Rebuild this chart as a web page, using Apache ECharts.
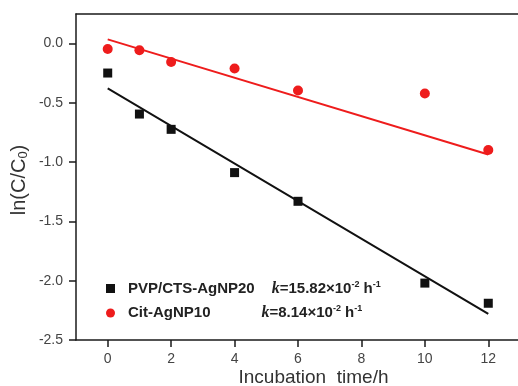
<!DOCTYPE html>
<html><head><meta charset="utf-8">
<script src="https://cdn.jsdelivr.net/npm/echarts@6/dist/echarts.min.js"></script>
<style>html,body{margin:0;padding:0;background:#fff}#c{width:518px;height:386px}</style>
</head><body><div id="c"></div>
<script>
const times = [0, 1, 2, 4, 6, 10, 12];
const pvpValues = [-0.248, -0.594, -0.723, -1.088, -1.33, -2.02, -2.19];
const citValues = [-0.045, -0.056, -0.155, -0.21, -0.396, -0.42, -0.897];
const fitX = [0, 12];
const pvpFit = [-0.377, -2.28];
const citFit = [0.036, -0.935];
const xTicks = [0, 2, 4, 6, 8, 10, 12];
const yTicks = [0.0, -0.5, -1.0, -1.5, -2.0, -2.5];
const seriesNames = ['PVP/CTS-AgNP20', 'Cit-AgNP10'];
const kLabels = {'PVP/CTS-AgNP20': '{i1|k}{b|=15.82×10}{s|-2}{b| h}{s|-1}', 'Cit-AgNP10': '{i2|k}{b|=8.14×10}{s|-2}{b| h}{s|-1}'};

const chart = echarts.init(document.getElementById('c'), null, {renderer: 'canvas'});
const pair = (xs, ys) => xs.map((x, i) => [x, ys[i]]);
const axisCol = '#1a1a1a';
const TICK = 7;
const kStyle = (pad) => ({fontFamily: 'Liberation Serif', fontStyle: 'italic', fontWeight: 'bold', fontSize: 16, color: '#222', padding: [0, 0, 0, pad]});
chart.setOption({
  animation: false,
  grid: {left: 76, right: -2, top: 14, bottom: 46, outerBoundsMode: 'none', containLabel: false},
  xAxis: [{
    type: 'value', min: -1, max: 13, interval: 1, position: 'bottom',
    name: 'Incubation  time/h', nameLocation: 'middle', nameGap: 28, nameMoveOverlap: false,
    nameTextStyle: {fontFamily: 'Liberation Sans', fontSize: 19, color: '#333', padding: [0, 0, 0, 31]},
    axisLine: {show: true, onZero: false, lineStyle: {color: axisCol, width: 1.5}},
    axisTick: {show: true, inside: false, length: TICK, customValues: xTicks, lineStyle: {color: axisCol, width: 1.5}},
    axisLabel: {fontFamily: 'Liberation Sans', fontSize: 14, color: '#444', margin: 12, customValues: xTicks},
    splitLine: {show: false}
  }, {
    type: 'value', min: -1, max: 13, position: 'top',
    axisLine: {show: true, onZero: false, lineStyle: {color: axisCol, width: 1.5}},
    axisTick: {show: false}, axisLabel: {show: false}, splitLine: {show: false}
  }],
  yAxis: {
    type: 'value', min: -2.5, max: 0.25, interval: 0.5,
    name: 'ln(C/C{sub|0})', nameLocation: 'middle', nameGap: 46, nameRotate: 90, nameMoveOverlap: false,
    nameTextStyle: {fontFamily: 'Liberation Sans', fontSize: 20, color: '#333', padding: [0, 6, 0, 0],
      rich: {sub: {fontFamily: 'Liberation Sans', fontSize: 13, color: '#333', padding: [9, 0, 0, 0]}}},
    axisLine: {show: true, onZero: false, lineStyle: {color: axisCol, width: 1.5}},
    axisTick: {show: true, inside: false, length: TICK, lineStyle: {color: axisCol, width: 1.5}},
    axisLabel: {fontFamily: 'Liberation Sans', fontSize: 14, color: '#444', margin: 13, showMaxLabel: false,
      formatter: v => yTicks.some(t => Math.abs(t - v) < 1e-6) ? v.toFixed(1) : ''},
    splitLine: {show: false}
  },
  legend: {
    data: seriesNames, orient: 'vertical', left: 101, top: 275, itemWidth: 9, itemHeight: 9, itemGap: 8,
    formatter: n => '{b|' + n + '}' + kLabels[n],
    textStyle: {padding: [0, 0, 0, 8], rich: {
      b: {fontFamily: 'Liberation Sans', fontWeight: 'bold', fontSize: 15, color: '#222'},
      i1: kStyle(17), i2: kStyle(51),
      s: {fontFamily: 'Liberation Sans', fontWeight: 'bold', fontSize: 9, color: '#222', padding: [0, 0, 8, 0]}
    }}
  },
  series: [
    {name: 'fit1', type: 'line', data: pair(fitX, pvpFit), showSymbol: false, lineStyle: {color: '#111', width: 2}, z: 1},
    {name: 'fit2', type: 'line', data: pair(fitX, citFit), showSymbol: false, lineStyle: {color: '#ee1c1c', width: 2}, z: 1},
    {name: seriesNames[0], type: 'scatter', symbol: 'rect', symbolSize: 9, data: pair(times, pvpValues), itemStyle: {color: '#111', opacity: 1}, z: 3},
    {name: seriesNames[1], type: 'scatter', symbol: 'circle', symbolSize: 10, data: pair(times, citValues), itemStyle: {color: '#ee1c1c', opacity: 1}, z: 3}
  ]
});
</script></body></html>
